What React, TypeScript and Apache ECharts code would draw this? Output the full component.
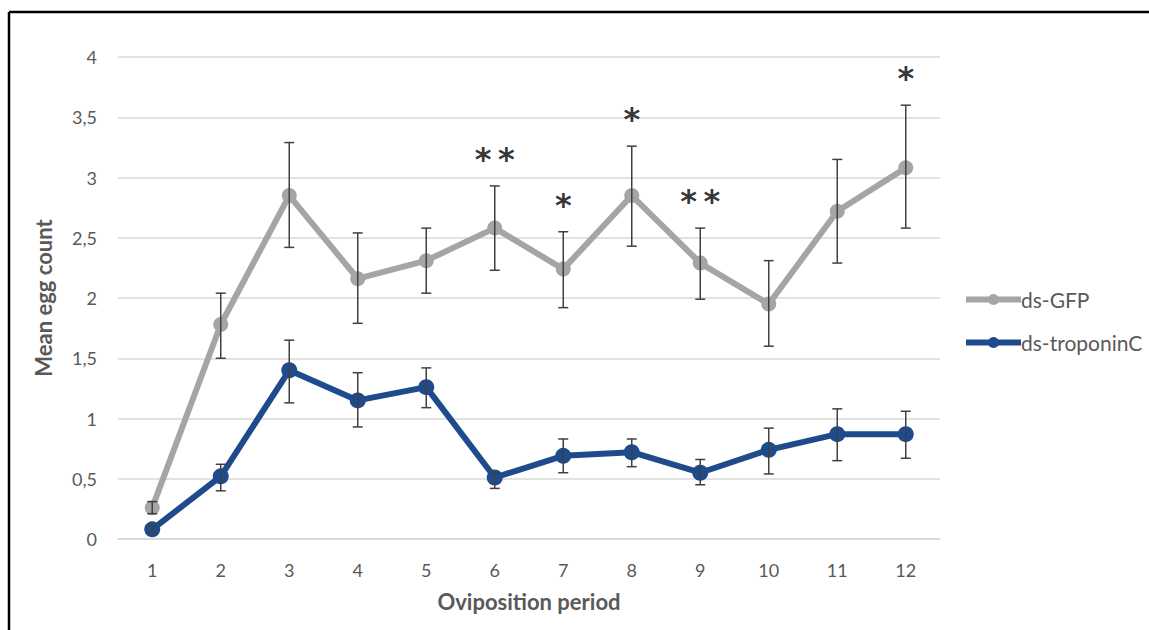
import React, { useEffect, useRef } from "react";
import * as echarts from "echarts";

const categories = ["1", "2", "3", "4", "5", "6", "7", "8", "9", "10", "11", "12"];
const gfpMean = [0.26, 1.78, 2.85, 2.16, 2.31, 2.58, 2.24, 2.85, 2.29, 1.95, 2.72, 3.08];
const gfpLow = [0.21, 1.5, 2.42, 1.79, 2.04, 2.23, 1.92, 2.43, 1.99, 1.6, 2.29, 2.58];
const gfpHigh = [0.31, 2.04, 3.29, 2.54, 2.58, 2.93, 2.55, 3.26, 2.58, 2.31, 3.15, 3.6];
const tropMean = [0.08, 0.52, 1.4, 1.15, 1.26, 0.51, 0.69, 0.72, 0.55, 0.74, 0.87, 0.87];
const tropLow = [0.05, 0.4, 1.13, 0.93, 1.09, 0.42, 0.55, 0.6, 0.45, 0.54, 0.65, 0.67];
const tropHigh = [0.11, 0.62, 1.65, 1.38, 1.42, 0.55, 0.83, 0.83, 0.66, 0.92, 1.08, 1.06];
const stars = ["", "", "", "", "", "*\u2009*", "*", "*", "*\u2009*", "", "", "*"];

const GRAY = "#A5A5A5";
const BLUE = "#1F4A8C";
const TEXT = "#595959";
const FONT = "Lato, 'Open Sans', sans-serif";

function errorSeries(low: number[], high: number[]) {
  return {
    type: "custom",
    z: 5,
    silent: true,
    data: low.map((l, i) => [i, l, high[i]]),
    renderItem: (params: any, api: any) => {
      const x = api.value(0);
      const lo = api.coord([x, api.value(1)]);
      const hi = api.coord([x, api.value(2)]);
      const cap = 5;
      const style = { stroke: "#404040", lineWidth: 1.5 };
      return {
        type: "group",
        children: [
          { type: "line", shape: { x1: lo[0], y1: lo[1], x2: hi[0], y2: hi[1] }, style },
          { type: "line", shape: { x1: lo[0] - cap, y1: lo[1], x2: lo[0] + cap, y2: lo[1] }, style },
          { type: "line", shape: { x1: hi[0] - cap, y1: hi[1], x2: hi[0] + cap, y2: hi[1] }, style },
        ],
      };
    },
  };
}

export default function App() {
  const ref = useRef<HTMLDivElement>(null);
  useEffect(() => {
    const chart = echarts.init(ref.current!, null, { renderer: "svg" });
    chart.setOption({
      animation: false,
      backgroundColor: "#ffffff",
      textStyle: { fontFamily: FONT },
      grid: { left: 118, right: 209, top: 57, bottom: 91 },
      graphic: [
        { type: "line", shape: { x1: 9, y1: 12, x2: 1149, y2: 12 }, style: { stroke: "#000", lineWidth: 2.5 } },
        { type: "line", shape: { x1: 9, y1: 12, x2: 9, y2: 630 }, style: { stroke: "#000", lineWidth: 2.5 } },
      ],
      legend: {
        orient: "vertical",
        left: 958,
        top: 284,
        itemWidth: 55,
        itemHeight: 14,
        itemGap: 22,
        textStyle: { color: TEXT, fontSize: 21, fontFamily: FONT, padding: [0, 0, 0, -5] },
        data: [
          { name: "ds-GFP", lineStyle: { width: 6, color: GRAY } },
          { name: "ds-troponinC", lineStyle: { width: 6, color: BLUE } },
        ],
      },
      xAxis: {
        type: "category",
        data: categories,
        name: "Oviposition period",
        nameLocation: "middle",
        nameGap: 51,
        nameTextStyle: { color: TEXT, fontSize: 22, fontWeight: "bold", fontFamily: FONT },
        axisLine: { lineStyle: { color: "#D9D9D9", width: 1.5 } },
        axisTick: { show: false },
        axisLabel: { color: TEXT, fontSize: 18, margin: 22, fontFamily: FONT },
      },
      yAxis: {
        type: "value",
        min: 0,
        max: 4,
        interval: 0.5,
        name: "Mean egg count",
        nameLocation: "middle",
        nameGap: 64,
        nameTextStyle: { color: TEXT, fontSize: 22, fontWeight: "bold", fontFamily: FONT },
        axisLine: { show: false },
        axisTick: { show: false },
        splitLine: { lineStyle: { color: "#D9D9D9", width: 1.5 } },
        axisLabel: {
          color: TEXT,
          fontSize: 18,
          margin: 21,
          fontFamily: FONT,
          formatter: (v: number) => String(v).replace(".", ","),
        },
      },
      series: [
        {
          name: "ds-GFP",
          type: "line",
          data: gfpMean,
          z: 3,
          symbol: "circle",
          symbolSize: 15,
          lineStyle: { color: GRAY, width: 6 },
          itemStyle: { color: GRAY },
        },
        {
          name: "ds-troponinC",
          type: "line",
          data: tropMean,
          z: 4,
          symbol: "circle",
          symbolSize: 16,
          lineStyle: { color: BLUE, width: 6 },
          itemStyle: { color: BLUE },
        },
        errorSeries(gfpLow, gfpHigh),
        errorSeries(tropLow, tropHigh),
        {
          type: "scatter",
          silent: true,
          symbolSize: 0,
          z: 6,
          data: gfpHigh.map((h, i) => [i, h]),
          label: {
            show: true,
            position: "top",
            distance: 11,
            color: "#000",
            fontSize: 32,
            fontWeight: "bold",
            fontFamily: "'DejaVu Sans', sans-serif",
            formatter: (p: any) => stars[p.dataIndex],
          },
        },
      ],
    });
    return () => chart.dispose();
  }, []);
  return (
    <div
      ref={ref}
      style={{ position: "fixed", left: 0, top: 0, width: 1149, height: 630 }}
    />
  );
}
